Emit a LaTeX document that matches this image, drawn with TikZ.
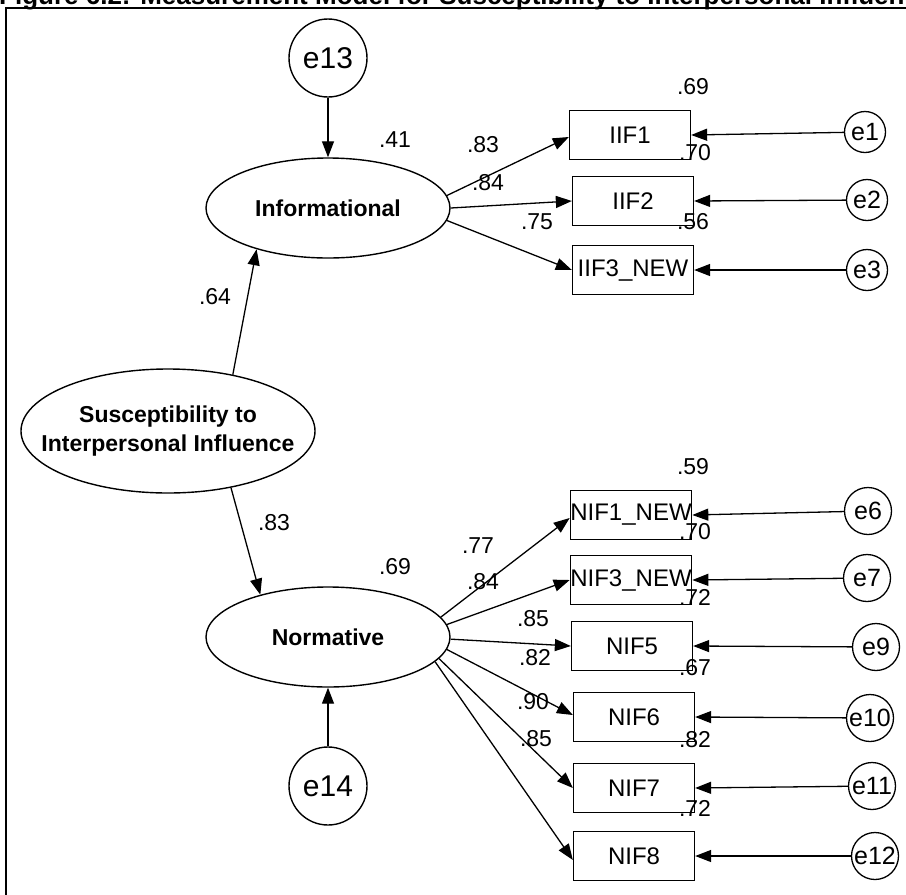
\documentclass[tikz,border=0pt]{standalone}
\usepackage{fontspec}
\setmainfont{Liberation Sans}
\usetikzlibrary{arrows.meta,shapes.geometric}
\begin{document}
\begin{tikzpicture}[x=1pt,y=-1pt,
  latent/.style={ellipse, draw, line width=1.4pt, minimum width=244pt, minimum height=100pt,
    inner sep=-100pt, align=center, font=\fontsize{23}{29}\bfseries\selectfont},
  obs/.style={rectangle, draw, line width=1.3pt, minimum width=121pt, minimum height=49pt,
    inner sep=0pt, font=\fontsize{24}{28}\selectfont},
  errsm/.style={circle, draw, line width=1.3pt, minimum size=41pt, inner sep=0pt,
    font=\fontsize{25}{28}\selectfont},
  errmd/.style={circle, draw, line width=1.3pt, minimum size=47pt, inner sep=0pt,
    font=\fontsize{25}{28}\selectfont},
  errlg/.style={circle, draw, line width=1.4pt, minimum size=78pt, inner sep=0pt,
    font=\fontsize{30}{34}\selectfont},
  coef/.style={inner sep=0pt, font=\fontsize{23}{27}\selectfont},
  regpath/.style={line width=1.3pt, -{Triangle[length=16pt,width=12pt]}},
  heading/.style={anchor=base west, inner sep=0pt, font=\fontsize{26}{30}\bfseries\selectfont}
]
\clip (0,0) rectangle (906,895);
\useasboundingbox (0,0) rectangle (906,895);

% heading and frame
\node[heading] (title) at (-1,4) {Figure 6.2: Measurement Model for Susceptibility to Interpersonal Influence};
\draw[line width=2pt] (6,900) -- (6,8) -- (910,8);

% latent variables
\node[latent, minimum width=294pt, minimum height=124pt] (SII) at (168,431) {Susceptibility to\\Interpersonal Influence};
\node[latent] (Info) at (328,208) {Informational};
\node[latent] (Norm) at (328,637) {Normative};

% disturbances
\node[errlg] (e13) at (328,58) {e13};
\node[errlg] (e14) at (328,786) {e14};

% indicators
\node[obs] (IIF1) at (630,135) {IIF1};
\node[obs] (IIF2) at (633,201) {IIF2};
\node[obs] (IIF3) at (633,270) {IIF3\_NEW};
\node[obs] (NIF1) at (631,515) {NIF1\_NEW};
\node[obs] (NIF3) at (631,580) {NIF3\_NEW};
\node[obs] (NIF5) at (632,646) {NIF5};
\node[obs] (NIF6) at (634,717) {NIF6};
\node[obs] (NIF7) at (634,788) {NIF7};
\node[obs] (NIF8) at (634,856) {NIF8};

% measurement errors
\node[errsm] (e1) at (865,132) {e1};
\node[errsm] (e2) at (867,200) {e2};
\node[errsm] (e3) at (867,270) {e3};
\node[errmd] (e6) at (868,511) {e6};
\node[errmd] (e7) at (867,578) {e7};
\node[errmd] (e9) at (876,647) {e9};
\node[errmd] (e10) at (870,718) {e10};
\node[errmd] (e11) at (872,786) {e11};
\node[errmd] (e12) at (875,856) {e12};

% structural paths
\draw[regpath] (e13) -- (Info);
\draw[regpath] (e14) -- (Norm);
\draw[regpath] (SII.41.7) -- (Info.210.6);
\draw[regpath] (SII.-42.6) -- (Norm.148.3);

% loadings
\draw[regpath] (Info.6) -- ([yshift=-2pt]IIF1.west);
\draw[regpath] (Info.0) -- (IIF2.west);
\draw[regpath] (Info.-6) -- (IIF3.west);
\draw[regpath] (Norm.10) -- ([yshift=-3pt]NIF1.west);
\draw[regpath] (Norm.6) -- (NIF3.west);
\draw[regpath] (Norm.-1) -- (NIF5.west);
\draw[regpath] (Norm.-6) -- ([yshift=2pt]NIF6.west);
\draw[regpath] (Norm.-11) -- (NIF7.west);
\draw[regpath] (Norm.-13) -- ([yshift=-4pt]NIF8.west);

% error paths
\draw[regpath] (e1) -- (IIF1.east);
\draw[regpath] (e2) -- (IIF2.east);
\draw[regpath] (e3) -- (IIF3.east);
\draw[regpath] (e6) -- (NIF1.east);
\draw[regpath] (e7) -- (NIF3.east);
\draw[regpath] (e9) -- (NIF5.east);
\draw[regpath] (e10) -- (NIF6.east);
\draw[regpath] (e11) -- (NIF7.east);
\draw[regpath] (e12) -- (NIF8.east);

% estimates
\node[coef] (r41) at (395,140) {.41};
\node[coef] (r69) at (395,567) {.69};
\node[coef] (g64) at (215,297) {.64};
\node[coef] (g83) at (274,523) {.83};

\node[coef] (s1) at (693,87) {.69};
\node[coef] (s2) at (695,153) {.70};
\node[coef] (s3) at (693,222) {.56};
\node[coef] (l1) at (483,145) {.83};
\node[coef] (l2) at (488,183) {.84};
\node[coef] (l3) at (537,222) {.75};

\node[coef] (s6) at (693,467) {.59};
\node[coef] (s7) at (695,532) {.70};
\node[coef] (s9) at (695,597) {.72};
\node[coef] (s10) at (695,668) {.67};
\node[coef] (s11) at (695,740) {.82};
\node[coef] (s12) at (695,808) {.72};
\node[coef] (l6) at (478,546) {.77};
\node[coef] (l7) at (483,582) {.84};
\node[coef] (l9) at (533,619) {.85};
\node[coef] (l10) at (535,658) {.82};
\node[coef] (l11) at (533,702) {.90};
\node[coef] (l12) at (536,739) {.85};
\end{tikzpicture}
\end{document}
